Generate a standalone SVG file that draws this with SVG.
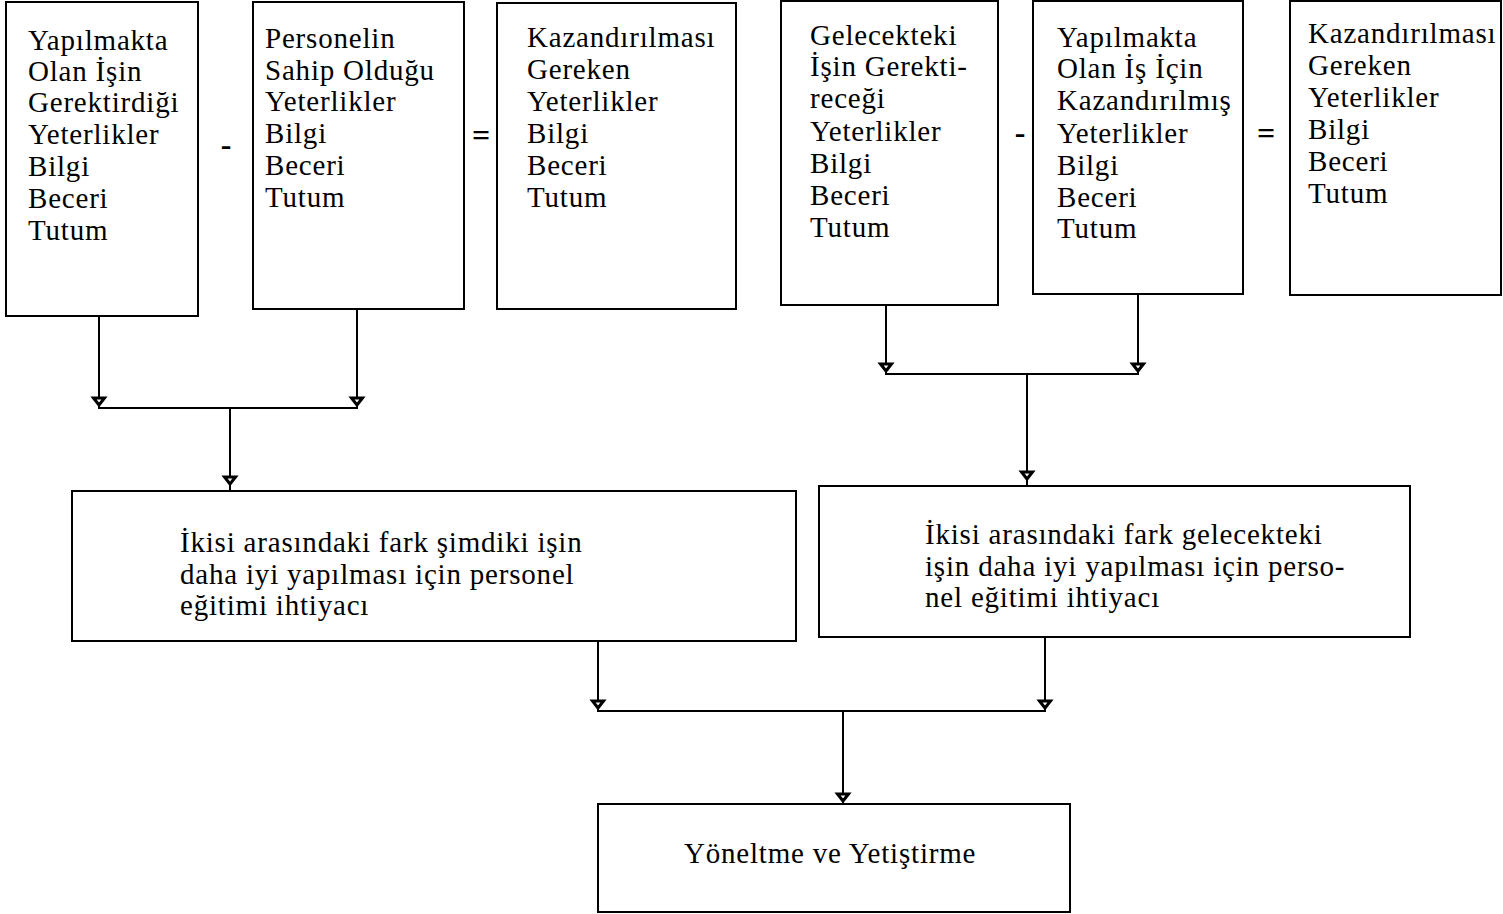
<svg xmlns="http://www.w3.org/2000/svg" width="1503" height="914" viewBox="0 0 1503 914">
<style>
.box{fill:#fff;stroke:#000;stroke-width:2}
.t{font-family:"Liberation Serif","Times New Roman",serif;font-size:29px;letter-spacing:0.8px;fill:#000}
.op{font-family:"Liberation Serif","Times New Roman",serif;font-size:32px;fill:#000;font-weight:bold;text-anchor:middle}
.c{fill:none;stroke:#000;stroke-width:2}
</style>
<defs>
<marker id="arr" markerUnits="userSpaceOnUse" markerWidth="18" markerHeight="16" viewBox="-9 -13 18 16" refX="0" refY="0" orient="0">
<path d="M-5.5,-10 L5.5,-10 L0,-3 Z" fill="#fff" stroke="#000" stroke-width="3" stroke-linejoin="miter"/>
</marker>
<marker id="arr2" markerUnits="userSpaceOnUse" markerWidth="18" markerHeight="18" viewBox="-9 -16 18 18" refX="0" refY="0" orient="0">
<path d="M-5.5,-14 L5.5,-14 L0,-7 Z" fill="#fff" stroke="#000" stroke-width="3" stroke-linejoin="miter"/>
</marker>
</defs>
<rect width="1503" height="914" fill="#fff"/>

<g id="connectors">
<path class="c" d="M99,316 V408" marker-end="url(#arr)"/>
<path class="c" d="M357,309 V408" marker-end="url(#arr)"/>
<path class="c" d="M98,408 H358"/>
<path class="c" d="M230,408 V491" marker-end="url(#arr2)"/>
<path class="c" d="M886,305 V374" marker-end="url(#arr)"/>
<path class="c" d="M1138,294 V374" marker-end="url(#arr)"/>
<path class="c" d="M885,374 H1139"/>
<path class="c" d="M1027,374 V486" marker-end="url(#arr2)"/>
<path class="c" d="M598,641 V711" marker-end="url(#arr)"/>
<path class="c" d="M1045,637 V711" marker-end="url(#arr)"/>
<path class="c" d="M597,711 H1046"/>
<path class="c" d="M843,711 V804" marker-end="url(#arr)"/>
</g>

<g id="box1">
<rect class="box" x="6" y="2" width="192" height="314"/>
<text class="t" x="28" y="50">Yapılmakta</text>
<text class="t" x="28" y="81">Olan İşin</text>
<text class="t" x="28" y="112">Gerektirdiği</text>
<text class="t" x="28" y="144">Yeterlikler</text>
<text class="t" x="28" y="176">Bilgi</text>
<text class="t" x="28" y="208">Beceri</text>
<text class="t" x="28" y="240">Tutum</text>
</g>

<g id="op1"><text class="op" x="226" y="155">-</text></g>

<g id="box2">
<rect class="box" x="253" y="2" width="211" height="307"/>
<text class="t" x="265" y="48">Personelin</text>
<text class="t" x="265" y="80">Sahip Olduğu</text>
<text class="t" x="265" y="111">Yeterlikler</text>
<text class="t" x="265" y="143">Bilgi</text>
<text class="t" x="265" y="175">Beceri</text>
<text class="t" x="265" y="207">Tutum</text>
</g>

<g id="op2"><text class="op" x="481" y="146">=</text></g>

<g id="box3">
<rect class="box" x="497" y="3" width="239" height="306"/>
<text class="t" x="527" y="47">Kazandırılması</text>
<text class="t" x="527" y="79">Gereken</text>
<text class="t" x="527" y="111">Yeterlikler</text>
<text class="t" x="527" y="143">Bilgi</text>
<text class="t" x="527" y="175">Beceri</text>
<text class="t" x="527" y="207">Tutum</text>
</g>

<g id="box4">
<rect class="box" x="781" y="1" width="217" height="304"/>
<text class="t" x="810" y="45">Gelecekteki</text>
<text class="t" x="810" y="76">İşin Gerekti-</text>
<text class="t" x="810" y="108">receği</text>
<text class="t" x="810" y="141">Yeterlikler</text>
<text class="t" x="810" y="173">Bilgi</text>
<text class="t" x="810" y="205">Beceri</text>
<text class="t" x="810" y="237">Tutum</text>
</g>

<g id="op3"><text class="op" x="1020" y="143">-</text></g>

<g id="box5">
<rect class="box" x="1033" y="1" width="210" height="293"/>
<text class="t" x="1057" y="47">Yapılmakta</text>
<text class="t" x="1057" y="78">Olan İş İçin</text>
<text class="t" x="1057" y="110">Kazandırılmış</text>
<text class="t" x="1057" y="143">Yeterlikler</text>
<text class="t" x="1057" y="175">Bilgi</text>
<text class="t" x="1057" y="207">Beceri</text>
<text class="t" x="1057" y="238">Tutum</text>
</g>

<g id="op4"><text class="op" x="1266" y="144">=</text></g>

<g id="box6">
<rect class="box" x="1290" y="1" width="211" height="294"/>
<text class="t" x="1308" y="43">Kazandırılması</text>
<text class="t" x="1308" y="75">Gereken</text>
<text class="t" x="1308" y="107">Yeterlikler</text>
<text class="t" x="1308" y="139">Bilgi</text>
<text class="t" x="1308" y="171">Beceri</text>
<text class="t" x="1308" y="203">Tutum</text>
</g>

<g id="box7">
<rect class="box" x="72" y="491" width="724" height="150"/>
<text class="t" x="180" y="552">İkisi arasındaki fark şimdiki işin</text>
<text class="t" x="180" y="584">daha iyi yapılması için personel</text>
<text class="t" x="180" y="615">eğitimi ihtiyacı</text>
</g>

<g id="box8">
<rect class="box" x="819" y="486" width="591" height="151"/>
<text class="t" x="925" y="544">İkisi arasındaki fark gelecekteki</text>
<text class="t" x="925" y="576">işin daha iyi yapılması için perso-</text>
<text class="t" x="925" y="607">nel eğitimi ihtiyacı</text>
</g>

<g id="box9">
<rect class="box" x="598" y="804" width="472" height="108"/>
<text class="t" x="684" y="863">Yöneltme ve Yetiştirme</text>
</g>
</svg>
